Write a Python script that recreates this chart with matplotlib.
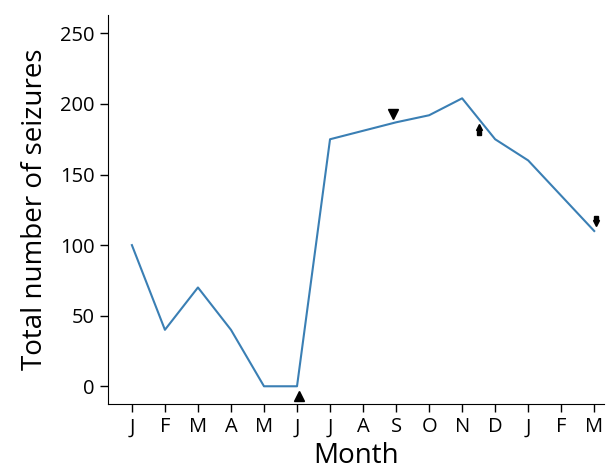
import matplotlib
matplotlib.use("Agg")
import matplotlib.pyplot as plt
import numpy as np

months = ["J", "F", "M", "A", "M", "J", "J", "A", "S", "O", "N", "D", "J", "F", "M"]
seizures = [100, 40, 70, 40, 0, 0, 175, 181, 187, 192, 204, 175, 160, 135, 110]

# event markers (x position in month index, y value)
up_tri_x, up_tri_y = [5.05], [-7]
down_tri_x, down_tri_y = [7.9], [193]
up_arrow_x, up_arrow_y = [10.5], [181]
down_arrow_x, down_arrow_y = [14.05], [118]

plt.rcParams['font.family'] = ['Open Sans', 'DejaVu Sans']

fig = plt.figure(figsize=(6.09, 4.70), dpi=100)
ax = fig.add_axes([0.177, 0.140, 0.815, 0.828])

x = np.arange(len(months))
ax.plot(x, seizures, color="#3a7fb4", lw=1.5)

ax.plot(up_tri_x, up_tri_y, marker="^", color="black", ms=7, ls="none")
ax.plot(down_tri_x, down_tri_y, marker="v", color="black", ms=7, ls="none")
# up arrow: triangle above small rectangle
for xx, yy in zip(up_arrow_x, up_arrow_y):
    ax.plot([xx], [yy + 2.5], marker="^", color="black", ms=4.5, ls="none")
    ax.plot([xx], [yy - 1.5], marker="s", color="black", ms=3.5, ls="none")
for xx, yy in zip(down_arrow_x, down_arrow_y):
    ax.plot([xx], [yy - 2.5], marker="v", color="black", ms=4.5, ls="none")
    ax.plot([xx], [yy + 1.5], marker="s", color="black", ms=3.5, ls="none")

ax.set_xlim(-0.73, 14.3)
ax.set_ylim(-12.7, 263)
ax.set_xticks(x)
ax.set_xticklabels(months)
ax.set_yticks([0, 50, 100, 150, 200, 250])
ax.spines["top"].set_visible(False)
ax.spines["right"].set_visible(False)
ax.tick_params(direction="out", length=6, labelsize=14.5, width=1)
ax.set_xlabel("Month", fontsize=20, labelpad=3)
ax.set_ylabel("Total number of seizures", fontsize=20, labelpad=8)

fig.savefig("out.png", dpi=100)
